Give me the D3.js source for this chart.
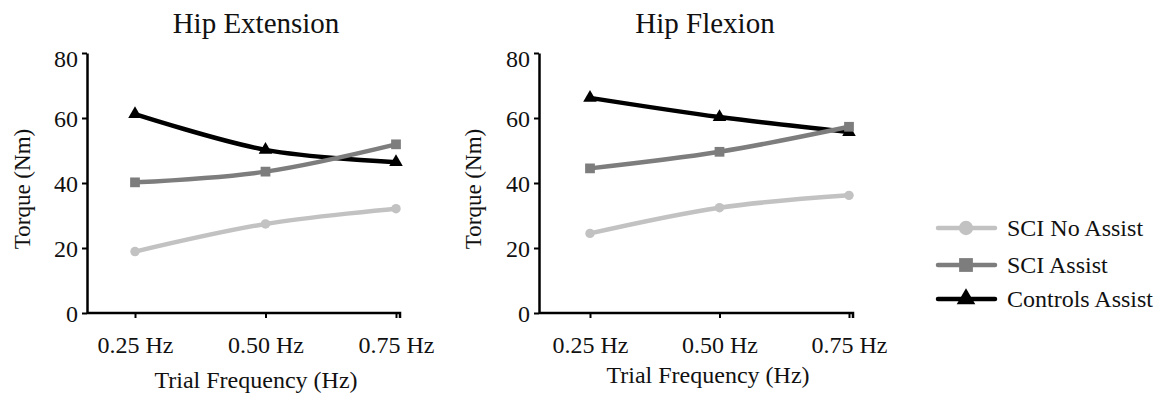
<!DOCTYPE html>
<html>
<head>
<meta charset="utf-8">
<script src="https://cdn.jsdelivr.net/npm/d3@7"></script>
<style>
html,body{margin:0;padding:0;background:#fff;}
svg{display:block;}
svg text{font-family:"Liberation Serif","DejaVu Serif","Noto Serif","Times New Roman",Times,serif !important;fill:#111;}
</style>
</head>
<body>
<svg id="chart" width="1160" height="398"></svg>
<script>
const categories = ["0.25 Hz", "0.50 Hz", "0.75 Hz"];
const yTicks = [0, 20, 40, 60, 80];
const seriesNames = ["SCI No Assist", "SCI Assist", "Controls Assist"];
const seriesColors = ["#c2c2c2", "#7d7d7d", "#000000"];
const seriesSymbols = ["circle", "square", "triangle"];

const extNoAssist = [18.9, 27.4, 32.1];
const extAssist = [40.2, 43.5, 51.9];
const extControls = [61.2, 50.2, 46.4];

const flexNoAssist = [24.5, 32.4, 36.2];
const flexAssist = [44.5, 49.6, 57.3];
const flexControls = [66.2, 60.3, 55.7];

const panelTitles = ["Hip Extension", "Hip Flexion"];
const yLabel = "Torque (Nm)";
const xLabel = "Trial Frequency (Hz)";

const FONT = '"Liberation Serif","DejaVu Serif","Noto Serif","Times New Roman",Times,serif';

const panels = [
  {title: panelTitles[0], data: [extNoAssist, extAssist, extControls], ax: 87, c0: 135, c1: 396, end: 400, xl: 256, xlb: 388, tx: 256, yl: 30},
  {title: panelTitles[1], data: [flexNoAssist, flexAssist, flexControls], ax: 539, c0: 590, c1: 849, end: 853, xl: 708, xlb: 383, tx: 705, yl: 481}
];

const svg = d3.select("#chart");
const yTop = 53, yBot = 313;

function symbolPath(type, size) {
  const t = type === "circle" ? d3.symbolCircle : type === "square" ? d3.symbolSquare : d3.symbolTriangle;
  return d3.symbol().type(t).size(size)();
}

panels.forEach(p => {
  const g = svg.append("g");
  const x = d3.scalePoint().domain(categories).range([p.c0, p.c1]);
  const y = d3.scaleLinear().domain([0, 80]).range([yBot, yTop]);

  // y axis
  const ya = g.append("g").attr("transform", `translate(${p.ax},0)`)
    .call(d3.axisLeft(y).tickValues(yTicks).tickSize(5).tickSizeOuter(0).tickPadding(4));
  ya.attr("font-family", FONT);
  ya.select(".domain").attr("stroke", "#000").attr("stroke-width", 2.5);
  ya.selectAll(".tick line").attr("stroke", "#000").attr("stroke-width", 2);
  ya.selectAll(".tick text").attr("font-size", 24).attr("fill", "#111")
    .attr("dy", d => d === 80 ? "0.55em" : "0.34em");

  // x axis
  const xa = g.append("g").attr("transform", `translate(0,${yBot})`)
    .call(d3.axisBottom(x).tickSize(5).tickSizeOuter(0).tickPadding(18));
  xa.attr("font-family", FONT);
  xa.select(".domain").attr("d", `M${p.ax},0H${p.end}V5`).attr("stroke", "#000").attr("stroke-width", 2.5).attr("fill", "none");
  xa.selectAll(".tick line").attr("stroke", "#000").attr("stroke-width", 2);
  xa.selectAll(".tick text").attr("font-size", 24).attr("fill", "#111");

  // title
  g.append("text").attr("x", p.tx).attr("y", 33).attr("text-anchor", "middle")
    .attr("font-family", FONT).attr("font-size", 29).text(p.title);
  // x label
  g.append("text").attr("x", p.xl).attr("y", p.xlb).attr("text-anchor", "middle")
    .attr("font-family", FONT).attr("font-size", 24).text(xLabel);
  // y label
  g.append("text").attr("transform", `translate(${p.yl},189) rotate(-90)`).attr("text-anchor", "middle")
    .attr("font-family", FONT).attr("font-size", 23).text(yLabel);

  const line = d3.line().x((d, i) => x(categories[i])).y(d => y(d)).curve(d3.curveCardinal.tension(0));

  // draw Controls first, then SCI Assist, then SCI No Assist (lighter series on top)
  [2, 1, 0].forEach(si => {
    const vals = p.data[si];
    g.append("path").attr("d", line(vals)).attr("fill", "none")
      .attr("stroke", seriesColors[si]).attr("stroke-width", 4.5).attr("stroke-linecap", "round");
    const size = seriesSymbols[si] === "circle" ? 70 : seriesSymbols[si] === "square" ? 95 : 80;
    g.selectAll(null).data(vals).enter().append("path")
      .attr("transform", (d, i) => `translate(${x(categories[i])},${y(d)})`)
      .attr("d", symbolPath(seriesSymbols[si], size))
      .attr("fill", seriesColors[si]);
  });
});

// legend
const legendRows = [228, 265, 299];
seriesNames.forEach((name, i) => {
  const lg = svg.append("g");
  lg.append("line").attr("x1", 938).attr("x2", 995).attr("y1", legendRows[i]).attr("y2", legendRows[i])
    .attr("stroke", seriesColors[i]).attr("stroke-width", 4.5).attr("stroke-linecap", "round");
  const size = seriesSymbols[i] === "circle" ? 160 : seriesSymbols[i] === "square" ? 190 : 150;
  lg.append("path").attr("transform", `translate(966,${legendRows[i]})`)
    .attr("d", symbolPath(seriesSymbols[i], size)).attr("fill", seriesColors[i]);
  lg.append("text").attr("x", 1007).attr("y", legendRows[i] + 8)
    .attr("font-family", FONT).attr("font-size", 24).text(name);
});
</script>
</body>
</html>
